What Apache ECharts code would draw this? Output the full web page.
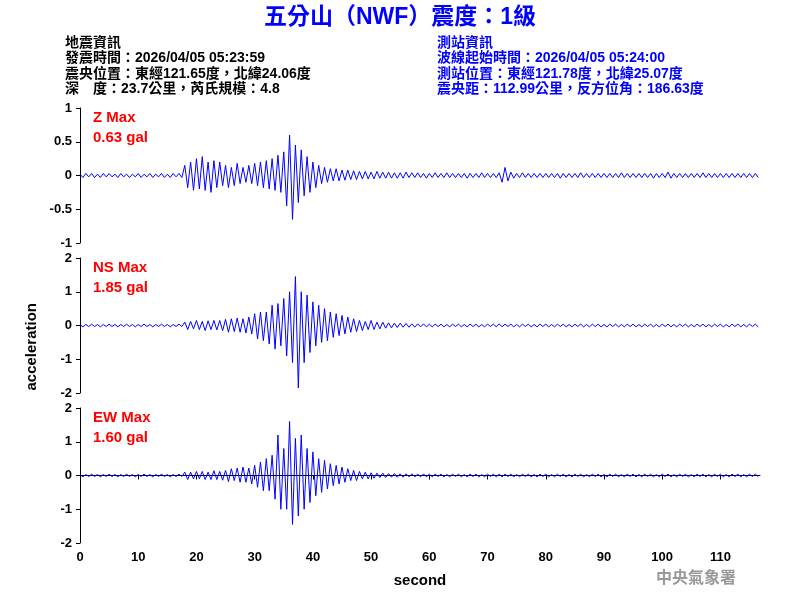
<!DOCTYPE html>
<html>
<head>
<meta charset="utf-8">
<script src="https://cdn.jsdelivr.net/npm/echarts@6/dist/echarts.min.js"></script>
<style>
  html, body { margin: 0; padding: 0; background: #fff; }
  #chart { width: 800px; height: 600px; }
</style>
</head>
<body>
<div id="chart"></div>
<script>
// samples every 0.5 s, starting at 0 s
const step = 0.5
const xTicks = [0, 10, 20, 30, 40, 50, 60, 70, 80, 90, 100, 110]

const zData = [
  0.02,-0.03,0.03,-0.02,0.03,-0.03,0.02,-0.03,0.03,-0.02,
  0.03,-0.02,0.02,-0.03,0.03,-0.02,0.02,-0.03,0.02,-0.02,
  0.03,-0.03,0.02,-0.02,0.03,-0.03,0.02,-0.02,0.03,-0.03,
  0.02,-0.03,0.03,-0.02,0.03,-0.03,0.15,-0.18,0.2,-0.22,
  0.25,-0.2,0.28,-0.22,0.2,-0.25,0.22,-0.18,0.2,-0.15,
  0.15,-0.18,0.12,-0.15,0.18,-0.12,0.12,-0.1,0.15,-0.12,
  0.18,-0.15,0.2,-0.18,0.22,-0.2,0.25,-0.22,0.3,-0.25,
  0.35,-0.45,0.6,-0.65,0.45,-0.4,0.38,-0.3,0.28,-0.25,
  0.2,-0.18,0.15,-0.12,0.12,-0.1,0.1,-0.08,0.1,-0.08,
  0.08,-0.07,0.08,-0.06,0.07,-0.06,0.06,-0.05,0.06,-0.05,
  0.05,-0.05,0.06,-0.04,0.05,-0.04,0.05,-0.04,0.04,-0.04,
  0.04,-0.04,0.05,-0.03,0.04,-0.03,0.04,-0.03,0.03,-0.04,
  0.03,-0.03,0.04,-0.03,0.03,-0.03,0.04,-0.03,0.03,-0.03,
  0.03,-0.03,0.03,-0.04,0.03,-0.03,0.03,-0.03,0.04,-0.03,
  0.03,-0.03,0.03,-0.03,0.04,-0.1,0.12,-0.08,0.05,-0.04,
  0.03,-0.03,0.04,-0.03,0.03,-0.03,0.03,-0.03,0.03,-0.03,
  0.03,-0.03,0.03,-0.03,0.03,-0.04,0.03,-0.03,0.03,-0.03,
  0.03,-0.03,0.04,-0.03,0.03,-0.03,0.03,-0.03,0.03,-0.03,
  0.03,-0.03,0.03,-0.03,0.03,-0.03,0.04,-0.03,0.03,-0.03,
  0.03,-0.03,0.03,-0.03,0.03,-0.03,0.03,-0.04,0.03,-0.03,
  0.03,-0.03,0.05,-0.04,0.03,-0.03,0.03,-0.03,0.03,-0.03,
  0.03,-0.03,0.03,-0.03,0.04,-0.03,0.03,-0.03,0.03,-0.03,
  0.03,-0.03,0.03,-0.03,0.03,-0.03,0.03,-0.03,0.03,-0.03,
  0.03,-0.03,0.03,-0.03
]

const nsData = [
  0.03,-0.04,0.03,-0.03,0.04,-0.03,0.03,-0.04,0.03,-0.03,
  0.04,-0.03,0.03,-0.04,0.03,-0.03,0.04,-0.03,0.03,-0.04,
  0.03,-0.03,0.04,-0.03,0.03,-0.04,0.03,-0.03,0.04,-0.03,
  0.03,-0.04,0.03,-0.03,0.04,-0.03,0.1,-0.12,0.12,-0.1,
  0.15,-0.12,0.12,-0.15,0.14,-0.12,0.15,-0.13,0.15,-0.15,
  0.18,-0.2,0.2,-0.18,0.22,-0.2,0.2,-0.22,0.25,-0.25,
  0.35,-0.4,0.4,-0.45,0.4,-0.55,0.6,-0.7,0.65,-0.6,
  0.8,-0.9,1.0,-1.1,1.45,-1.85,1.0,-1.1,0.9,-0.8,
  0.7,-0.6,0.6,-0.5,0.5,-0.45,0.4,-0.35,0.35,-0.3,
  0.3,-0.25,0.25,-0.2,0.2,-0.18,0.15,-0.15,0.12,-0.12,
  0.15,-0.12,0.1,-0.1,0.1,-0.08,0.08,-0.07,0.07,-0.06,
  0.07,-0.05,0.06,-0.05,0.05,-0.05,0.05,-0.04,0.05,-0.04,
  0.04,-0.04,0.04,-0.03,0.04,-0.04,0.03,-0.04,0.04,-0.03,
  0.04,-0.04,0.03,-0.04,0.04,-0.03,0.04,-0.04,0.03,-0.04,
  0.04,-0.03,0.04,-0.04,0.05,-0.04,0.04,-0.03,0.04,-0.04,
  0.03,-0.04,0.04,-0.03,0.04,-0.04,0.03,-0.04,0.04,-0.03,
  0.04,-0.04,0.03,-0.04,0.04,-0.03,0.04,-0.04,0.03,-0.04,
  0.04,-0.03,0.04,-0.04,0.03,-0.04,0.04,-0.03,0.04,-0.04,
  0.03,-0.04,0.04,-0.03,0.04,-0.04,0.03,-0.04,0.04,-0.03,
  0.04,-0.04,0.03,-0.04,0.04,-0.03,0.04,-0.04,0.03,-0.04,
  0.04,-0.03,0.04,-0.04,0.03,-0.04,0.04,-0.03,0.04,-0.04,
  0.03,-0.04,0.04,-0.03,0.04,-0.04,0.03,-0.04,0.04,-0.03,
  0.04,-0.04,0.03,-0.04,0.04,-0.03,0.04,-0.04,0.03,-0.04,
  0.04,-0.03,0.04,-0.04
]

const ewData = [
  0.03,-0.04,0.03,-0.03,0.04,-0.03,0.03,-0.04,0.03,-0.03,
  0.04,-0.03,0.03,-0.04,0.03,-0.03,0.04,-0.03,0.03,-0.04,
  0.03,-0.03,0.04,-0.03,0.03,-0.04,0.03,-0.03,0.04,-0.03,
  0.03,-0.04,0.03,-0.03,0.04,-0.03,0.1,-0.12,0.1,-0.1,
  0.12,-0.1,0.12,-0.12,0.1,-0.12,0.14,-0.12,0.12,-0.14,
  0.15,-0.18,0.2,-0.15,0.22,-0.2,0.25,-0.2,0.22,-0.25,
  0.3,-0.35,0.4,-0.45,0.5,-0.45,0.6,-0.7,1.2,-1.0,
  0.8,-1.0,1.6,-1.45,1.1,-1.2,1.2,-1.0,0.8,-0.8,
  0.7,-0.6,0.5,-0.5,0.45,-0.4,0.35,-0.3,0.3,-0.25,
  0.25,-0.2,0.2,-0.15,0.15,-0.15,0.12,-0.1,0.1,-0.1,
  0.08,-0.08,0.07,-0.06,0.07,-0.06,0.06,-0.05,0.06,-0.05,
  0.05,-0.05,0.05,-0.04,0.05,-0.04,0.04,-0.04,0.05,-0.04,
  0.04,-0.04,0.04,-0.03,0.04,-0.04,0.03,-0.04,0.04,-0.03,
  0.04,-0.04,0.03,-0.04,0.04,-0.03,0.04,-0.04,0.03,-0.04,
  0.04,-0.03,0.04,-0.04,0.04,-0.04,0.04,-0.03,0.04,-0.04,
  0.03,-0.04,0.04,-0.03,0.04,-0.04,0.03,-0.04,0.04,-0.03,
  0.04,-0.04,0.03,-0.04,0.04,-0.03,0.04,-0.04,0.03,-0.04,
  0.04,-0.03,0.04,-0.04,0.03,-0.04,0.04,-0.03,0.04,-0.04,
  0.03,-0.04,0.04,-0.03,0.04,-0.04,0.03,-0.04,0.04,-0.03,
  0.04,-0.04,0.03,-0.04,0.04,-0.03,0.04,-0.04,0.03,-0.04,
  0.04,-0.03,0.04,-0.04,0.03,-0.04,0.04,-0.03,0.04,-0.04,
  0.03,-0.04,0.04,-0.03,0.04,-0.04,0.03,-0.04,0.04,-0.03,
  0.04,-0.04,0.03,-0.04,0.04,-0.03,0.04,-0.04,0.03,-0.04,
  0.04,-0.03,0.04,-0.04
]

const panels = [
  {name: 'Z Max', peak: '0.63 gal', data: zData, min: -1, max: 1, interval: 0.5, top: 108},
  {name: 'NS Max', peak: '1.85 gal', data: nsData, min: -2, max: 2, interval: 1, top: 258},
  {name: 'EW Max', peak: '1.60 gal', data: ewData, min: -2, max: 2, interval: 1, top: 408}
]

const infoLeft = ['地震資訊', '發震時間：2026/04/05 05:23:59', '震央位置：東經121.65度，北緯24.06度', '深　度：23.7公里，芮氏規模：4.8']
const infoRight = ['測站資訊', '波線起始時間：2026/04/05 05:24:00', '測站位置：東經121.78度，北緯25.07度', '震央距：112.99公里，反方位角：186.63度']

const font = 'Liberation Sans, Arial, Noto Sans CJK TC, sans-serif'
const chart = echarts.init(document.getElementById('chart'))

let grid = [], xAxis = [], yAxis = [], series = [], graphic = []

panels.forEach((p, i) => {
  grid.push({left: 80, right: 40, top: p.top, height: 135})
  xAxis.push({
    gridIndex: i, type: 'value', min: 0, max: 116.8,
    show: i === 2,
    axisLine: {show: true, lineStyle: {color: '#000'}},
    axisTick: {show: true, length: 4, lineStyle: {color: '#000'}, customValues: xTicks},
    axisLabel: {color: '#000', fontFamily: font, fontSize: 13, fontWeight: 'bold', customValues: xTicks},
    splitLine: {show: false},
    name: i === 2 ? 'second' : '', nameLocation: 'middle', nameGap: 30,
    nameTextStyle: {color: '#000', fontFamily: font, fontSize: 15, fontWeight: 'bold'}
  })
  yAxis.push({
    gridIndex: i, type: 'value', min: p.min, max: p.max, interval: p.interval,
    axisLine: {show: true, lineStyle: {color: '#000'}},
    axisTick: {show: true, length: 4, lineStyle: {color: '#000'}},
    axisLabel: {color: '#000', fontFamily: font, fontSize: 13, fontWeight: 'bold'},
    splitLine: {show: false}
  })
  series.push({
    type: 'line', xAxisIndex: i, yAxisIndex: i, symbol: 'none', animation: false,
    lineStyle: {color: '#0000ff', width: 1},
    data: p.data.map((v, k) => [k * step, v])
  })
  graphic.push({type: 'text', left: 93, top: p.top + 2, style: {text: p.name, fill: '#ff0000', font: 'bold 15px ' + font}})
  graphic.push({type: 'text', left: 93, top: p.top + 22, style: {text: p.peak, fill: '#ff0000', font: 'bold 15px ' + font}})
})

graphic.push({type: 'text', left: 'center', top: 6, style: {text: '五分山（NWF）震度：1級', fill: '#0000ff', font: 'bold 23px ' + font}})
infoLeft.forEach((t, k) => graphic.push({type: 'text', left: 65, top: 36 + k * 15.5, style: {text: t, fill: '#000', font: 'bold 14px ' + font}}))
infoRight.forEach((t, k) => graphic.push({type: 'text', left: 437, top: 36 + k * 15.5, style: {text: t, fill: '#0000ff', font: 'bold 14px ' + font}}))
graphic.push({type: 'text', left: 24, top: 303, rotation: Math.PI / 2, style: {text: 'acceleration', fill: '#000', font: 'bold 15px ' + font, align: 'center', verticalAlign: 'middle'}})
graphic.push({type: 'text', left: 656, top: 571, style: {text: '中央氣象署', fill: '#999', font: 'bold 16px ' + font}})

chart.setOption({animation: false, grid, xAxis, yAxis, series, graphic})
</script>
</body>
</html>
